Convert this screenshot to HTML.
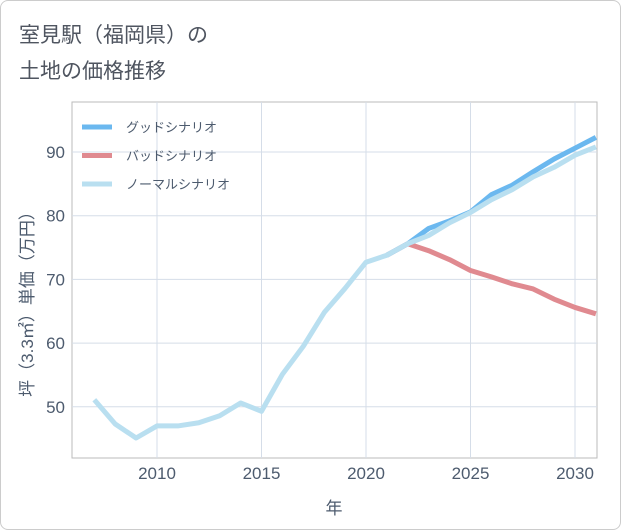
<!DOCTYPE html>
<html><head><meta charset="utf-8"><style>
body{margin:0;background:#fff;font-family:"Liberation Sans","Noto Sans CJK JP",sans-serif;}
#wrap{position:relative;width:619px;height:528px;border:1px solid #ccc;border-radius:8px;overflow:hidden;background:#fff;}
.title{position:absolute;left:18px;font-size:21px;color:#4f5560;}
</style></head><body>
<div id="wrap">
<div class="title" style="top:18px">室見駅（福岡県）の</div>
<div class="title" style="top:54px">土地の価格推移</div>
<svg id="c" width="621" height="530" style="position:absolute;left:-1px;top:-1px"></svg>
</div>
<script>
const years=[2007,2008,2009,2010,2011,2012,2013,2014,2015,2016,2017,2018,2019,2020,2021,2022,2023,2024,2025,2026,2027,2028,2029,2030,2031];
const normal=[51.1,47.3,45.1,47,47,47.5,48.6,50.6,49.3,55.1,59.5,64.8,68.6,72.7,73.8,75.6,76.9,78.9,80.5,82.5,84.1,86.1,87.6,89.5,90.8];
const fYears=[2021,2022,2023,2024,2025,2026,2027,2028,2029,2030,2031];
const good=[73.8,75.6,78,79.2,80.6,83.3,84.8,86.9,88.9,90.6,92.3];
const bad=[73.8,75.6,74.5,73.1,71.4,70.4,69.3,68.5,66.9,65.6,64.6];
const xTicks=[2010,2015,2020,2025,2030];
const yTicks=[50,60,70,80,90];
const L=72,R=597,T=102,B=458;
const x=v=>157+(v-2010)*20.9;
const y=v=>152+(90-v)*6.37;
const s=document.getElementById('c');const NS='http://www.w3.org/2000/svg';
function mk(t,a,txt){const e=document.createElementNS(NS,t);for(const k in a)e.setAttribute(k,a[k]);if(txt!=null)e.textContent=txt;s.appendChild(e);return e;}
let e=mk('rect',{x:L,y:T,width:R-L,height:B-T,fill:'#fff',stroke:'#bbb'});


xTicks.forEach(t=>{mk('line',{x1:x(t),x2:x(t),y1:T,y2:B,stroke:'#d5dde8'});
let l=mk('text',{x:x(t),y:479,'text-anchor':'middle','font-size':17,fill:'#4d5b6e'},t);

});
yTicks.forEach(t=>{mk('line',{x1:L,x2:R,y1:y(t),y2:y(t),stroke:'#d5dde8'});
let l=mk('text',{x:65,y:y(t)+6,'text-anchor':'end','font-size':17,fill:'#4d5b6e'},t);

});
function line(xs,vs,col,name){const p=mk('polyline',{points:xs.map((v,i)=>x(v)+','+y(vs[i])).join(' '),fill:'none',stroke:col,'stroke-width':5,'stroke-linejoin':'round'});

}
line(fYears,bad,'#e08a90','bad-scenario-line');
line(fYears,good,'#6bb8ef','good-scenario-line');
line(years,normal,'#b9dff0','normal-scenario-line');
const lg=[['グッドシナリオ','#6bb8ef'],['バッドシナリオ','#e08a90'],['ノーマルシナリオ','#b9dff0']];
lg.forEach((d,i)=>{const yy=127+i*28.5;
let a=mk('line',{x1:82,x2:112,y1:yy,y2:yy,stroke:d[1],'stroke-width':5});


let b=mk('text',{x:126,y:yy+5,'font-size':13,fill:'#4d5b6e'},d[0]);

});
let xt=mk('text',{x:334,y:514,'text-anchor':'middle','font-size':17,fill:'#4d5b6e'},'年');


let yt=mk('text',{x:0,y:0,'text-anchor':'middle','font-size':17,fill:'#4d5b6e',transform:'translate(33,300) rotate(-90)'},'坪（3.3㎡）単価（万円）');


</script>
</body></html>
